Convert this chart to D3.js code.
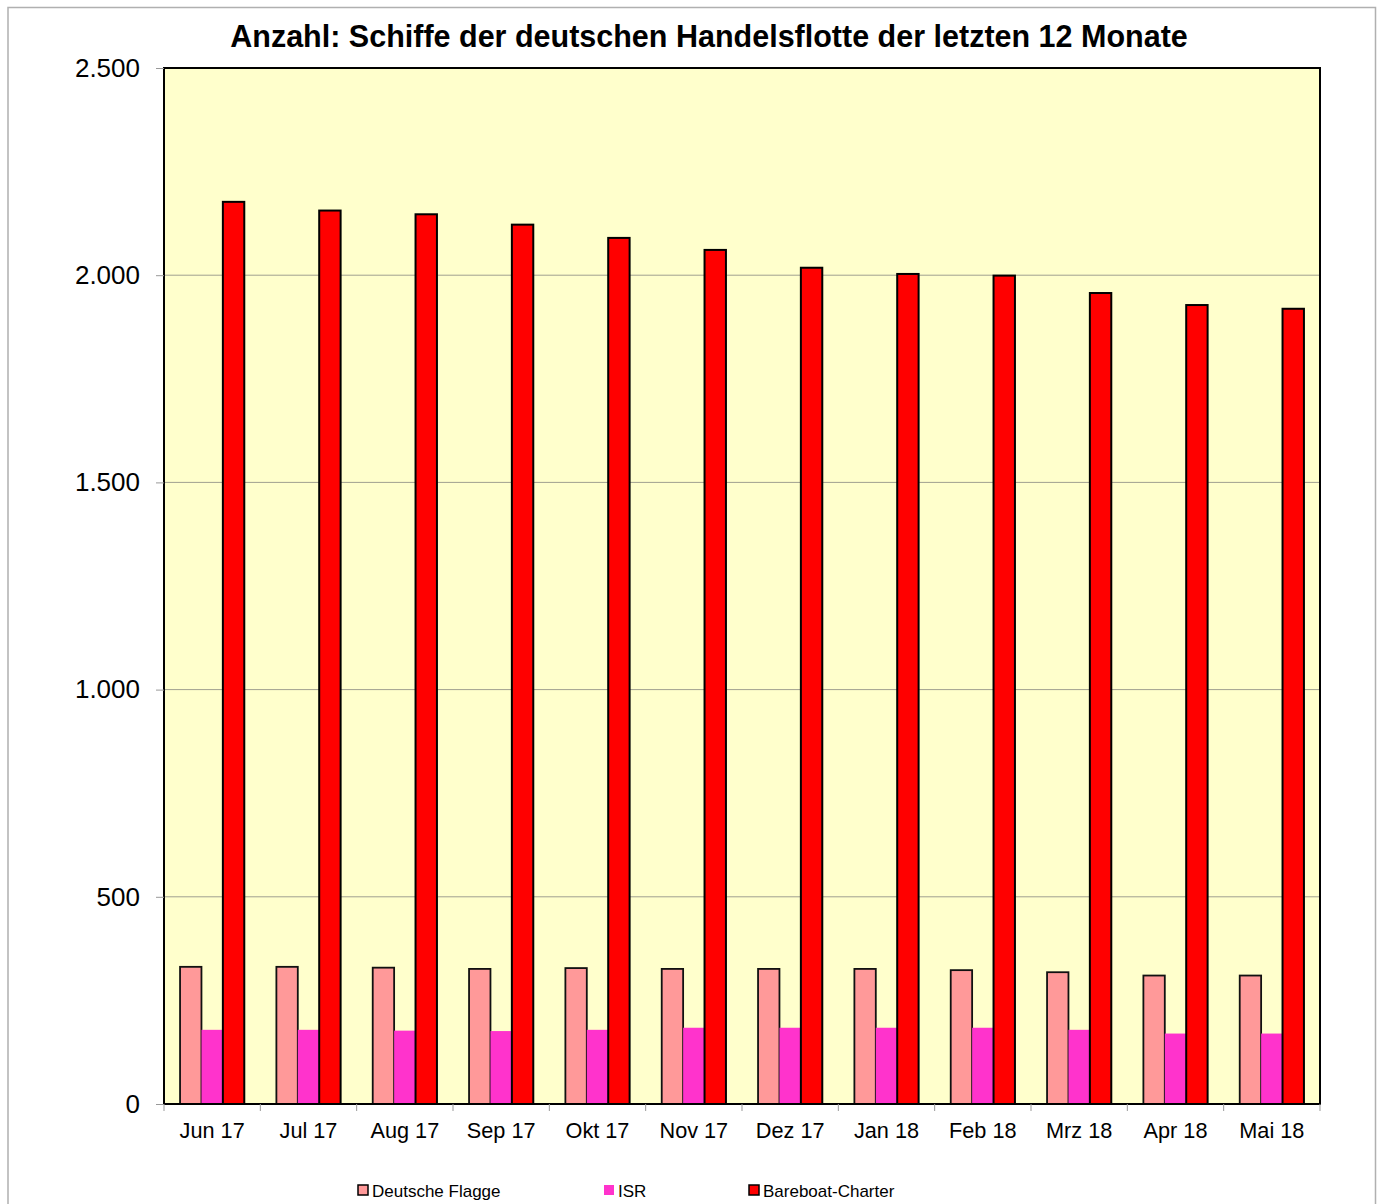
<!DOCTYPE html>
<html>
<head>
<meta charset="utf-8">
<script src="https://cdn.jsdelivr.net/npm/d3@7"></script>
<style>
    body { margin: 0; background: #fff; }
    text { font-family: "Liberation Sans", Arial, sans-serif; fill: #000; }
</style>
</head>
<body>
<svg id="chart" width="1377" height="1204"></svg>
<script>
const months = ['Jun 17', 'Jul 17', 'Aug 17', 'Sep 17', 'Okt 17', 'Nov 17', 'Dez 17', 'Jan 18', 'Feb 18', 'Mrz 18', 'Apr 18', 'Mai 18'];
const seriesNames = ['Deutsche Flagge', 'ISR', 'Bareboat-Charter'];
const deutscheFlagge = [331, 331, 329, 326, 328, 326, 326, 326, 323, 318, 310, 310];
const isr = [179, 179, 177, 176, 179, 184, 184, 184, 184, 179, 170, 170];
const bareboat = [2177, 2156, 2147, 2122, 2090, 2061, 2018, 2003, 1999, 1957, 1928, 1919];
const yTicks = [0, 500, 1000, 1500, 2000, 2500];

const colors = { 'Deutsche Flagge': '#ff9999', 'ISR': '#ff33cc', 'Bareboat-Charter': '#ff0000' };
const strokes = { 'Deutsche Flagge': '#111', 'ISR': 'none', 'Bareboat-Charter': '#000' };

const svg = d3.select('#chart');
const plot = { left: 164, right: 1320, top: 68, bottom: 1104 };

// outer frame
svg.append('path')
    .attr('d', 'M8,1204 V7.5 H1375.5 V1204')
    .attr('fill', 'none')
    .attr('stroke', '#b0b0b0')
    .attr('stroke-width', 1.5);

svg.append('text')
    .attr('x', 709)
    .attr('y', 47)
    .attr('text-anchor', 'middle')
    .attr('font-size', 30.5)
    .attr('font-weight', 'bold')
    .text('Anzahl: Schiffe der deutschen Handelsflotte der letzten 12 Monate');

const x0 = d3.scaleBand().domain(months).range([plot.left, plot.right]);
const bw = x0.bandwidth();
const barW = bw / 4.5;
// gap of 1.5 bar widths between groups, split on both sides
const x1 = d3.scaleBand().domain(seriesNames).range([barW * 0.75, barW * 3.75]);
const y = d3.scaleLinear().domain([0, 2500]).range([plot.bottom, plot.top]);

svg.append('rect')
    .attr('x', plot.left)
    .attr('y', plot.top)
    .attr('width', plot.right - plot.left)
    .attr('height', plot.bottom - plot.top)
    .attr('fill', '#ffffcc');

svg.append('g')
    .selectAll('line')
    .data(yTicks.filter(d => d > 0 && d < 2500))
    .enter()
    .append('line')
    .attr('x1', plot.left)
    .attr('x2', plot.right)
    .attr('y1', d => y(d))
    .attr('y2', d => y(d))
    .attr('stroke', '#a0a090')
    .attr('stroke-width', 1);

const rows = months.map((m, i) => ({
    month: m,
    values: [
        { name: 'Deutsche Flagge', value: deutscheFlagge[i] },
        { name: 'ISR', value: isr[i] },
        { name: 'Bareboat-Charter', value: bareboat[i] }
    ]
}));

const groups = svg.append('g')
    .selectAll('g')
    .data(rows)
    .enter()
    .append('g')
    .attr('transform', d => `translate(${x0(d.month)},0)`);

groups.selectAll('rect')
    .data(d => d.values)
    .enter()
    .append('rect')
    .attr('x', d => x1(d.name))
    .attr('width', barW)
    .attr('y', d => y(d.value))
    .attr('height', d => y(0) - y(d.value))
    .attr('fill', d => colors[d.name])
    .attr('stroke', d => strokes[d.name])
    .attr('stroke-width', d => d.name === 'Bareboat-Charter' ? 2 : 1.8);

// plot border
svg.append('rect')
    .attr('x', plot.left)
    .attr('y', plot.top)
    .attr('width', plot.right - plot.left)
    .attr('height', plot.bottom - plot.top)
    .attr('fill', 'none')
    .attr('stroke', '#000')
    .attr('stroke-width', 2);

// y axis
const yAxis = svg.append('g')
    .attr('transform', `translate(${plot.left},0)`)
    .call(d3.axisLeft(y).tickValues(yTicks).tickSize(8).tickPadding(16)
        .tickFormat(d => d3.format(',')(d).replace(/,/g, '.')));
yAxis.select('.domain').remove();
yAxis.selectAll('line').attr('stroke', '#999');
yAxis.selectAll('text')
    .attr('font-size', 26)
    .attr('font-family', '"Liberation Sans", Arial, sans-serif')
    .attr('fill', '#000');

// x axis ticks at category boundaries
svg.append('g')
    .selectAll('line')
    .data(months.map(m => x0(m)).concat([plot.right]))
    .enter()
    .append('line')
    .attr('x1', d => d)
    .attr('x2', d => d)
    .attr('y1', plot.bottom)
    .attr('y2', plot.bottom + 7)
    .attr('stroke', '#999');

svg.append('g')
    .selectAll('text')
    .data(months)
    .enter()
    .append('text')
    .attr('x', d => x0(d) + bw / 2)
    .attr('y', 1138)
    .attr('text-anchor', 'middle')
    .attr('font-size', 21.7)
    .text(d => d);

// legend
const legendX = [358, 604, 749];
const legend = svg.append('g')
    .selectAll('g')
    .data(seriesNames)
    .enter()
    .append('g')
    .attr('transform', (d, i) => `translate(${legendX[i]},1185)`);

legend.append('rect')
    .attr('width', 10)
    .attr('height', 10)
    .attr('fill', d => colors[d])
    .attr('stroke', d => d === 'ISR' ? 'none' : '#000')
    .attr('stroke-width', 1.5);

legend.append('text')
    .attr('x', 14)
    .attr('y', 12)
    .attr('font-size', 17)
    .text(d => d);
</script>
</body>
</html>
